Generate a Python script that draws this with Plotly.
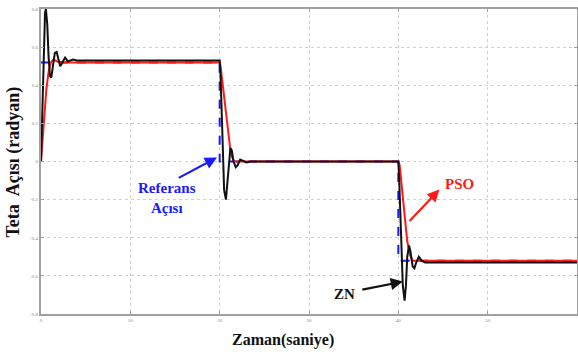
import plotly.graph_objects as go

# Reference (setpoint) signal
ref_t = [0, 20, 20, 40, 40, 60]
ref_v = [0.52, 0.52, 0.0, 0.0, -0.52, -0.52]

# PSO-tuned response
pso_t = [0, 0.3, 0.6, 0.85, 1.1, 1.4, 1.8, 2.5, 20.0, 20.1, 20.6, 21.0, 21.25, 21.6, 40.0, 40.15, 40.6, 41.0, 41.3, 41.6, 60]
pso_v = [0, 0.2, 0.38, 0.47, 0.52, 0.535, 0.525, 0.52, 0.52, 0.5, 0.3, 0.12, 0.04, 0.0, 0.0, -0.02, -0.22, -0.42, -0.49, -0.52, -0.52]

# ZN-tuned response
zn_t = [0, 0.15, 0.3, 0.45, 0.55, 0.7, 0.85, 1.0, 1.15, 1.35, 1.55, 1.75, 1.95, 2.15, 2.4, 2.7, 3.0, 3.3, 3.6, 4.0,
        20.0, 20.1, 20.3, 20.5, 20.7, 20.85, 21.0, 21.2, 21.35, 21.55, 21.8, 22.0, 22.3, 22.6, 23.0, 23.5,
        40.0, 40.1, 40.3, 40.5, 40.7, 40.85, 41.0, 41.2, 41.35, 41.6, 41.8, 42.0, 42.3, 42.6, 43.0, 60]
zn_v = [0, 0.3, 0.62, 0.78, 0.80, 0.72, 0.55, 0.45, 0.44, 0.50, 0.57, 0.575, 0.53, 0.50, 0.52, 0.545, 0.525, 0.53, 0.535, 0.53,
        0.53, 0.45, 0.1, -0.15, -0.20, -0.12, 0.0, 0.07, 0.06, 0.0, -0.03, -0.02, 0.01, 0.005, -0.005, 0.0,
        0.0, -0.1, -0.4, -0.65, -0.73, -0.65, -0.5, -0.44, -0.47, -0.55, -0.56, -0.53, -0.50, -0.52, -0.53, -0.53]

x_ticks = [0, 10, 20, 30, 40, 50, 60]
y_ticks = [0.8, 0.6, 0.4, 0.2, 0, -0.2, -0.4, -0.6, -0.8]
y_tick_text = ["0.8", "0.6", "0.4", "0.2", "0", "-0.2", "-0.4", "-0.6", "-0.8"]

fig = go.Figure()
fig.add_trace(go.Scatter(x=ref_t, y=ref_v, mode="lines",
                         line=dict(color="#1a1aff", width=2, dash="dash"), name="Referans"))
fig.add_trace(go.Scatter(x=pso_t, y=pso_v, mode="lines",
                         line=dict(color="#ff1a1a", width=2), name="PSO"))
fig.add_trace(go.Scatter(x=zn_t, y=zn_v, mode="lines",
                         line=dict(color="#111111", width=2), name="ZN"))

serif = "Liberation Serif"
axis_common = dict(showgrid=True, gridcolor="#d0d0d0", griddash="dot", gridwidth=1,
                   showline=True, linecolor="#a0a0a0", linewidth=2, mirror="ticks",
                   ticks="inside", ticklen=3, tickcolor="#a0a0a0", automargin=False,
                   tickfont=dict(family=serif, size=5, color="#888888"), zeroline=False)

fig.update_xaxes(range=[0, 60], tickvals=x_ticks, **axis_common)
fig.update_yaxes(range=[-0.8, 0.8], tickvals=y_ticks, ticktext=y_tick_text, **axis_common)

arrow = dict(showarrow=True, arrowhead=2, arrowsize=1.1, arrowwidth=2.2, text="",
             axref="x", ayref="y", xref="x", yref="y")
anns = [
    dict(x=19.7, y=0.021, ax=15.25, ay=-0.09, arrowcolor="#1a1aff", **arrow),
    dict(x=44.6, y=-0.147, ax=41.1, ay=-0.32, arrowcolor="#ff1a1a", **arrow),
    dict(x=40.5, y=-0.63, ax=35.8, ay=-0.674, arrowcolor="#111111", **arrow),
    dict(x=14.1, y=-0.19, xref="x", yref="y", showarrow=False,
         text="<b>Referans</b><br><b>Açısı</b>", font=dict(family=serif, size=15, color="#1a1aff")),
    dict(x=46.8, y=-0.12, xref="x", yref="y", showarrow=False,
         text="<b>PSO</b>", font=dict(family=serif, size=15, color="#ff1a1a")),
    dict(x=34.0, y=-0.695, xref="x", yref="y", showarrow=False,
         text="<b>ZN</b>", font=dict(family=serif, size=15, color="#111111")),
    dict(x=0.451, y=-0.085, xref="paper", yref="paper", showarrow=False,
         xanchor="center", yanchor="middle",
         text="<b>Zaman(saniye)</b>", font=dict(family=serif, size=16, color="#111111")),
    dict(x=-0.0504, y=0.5, xref="paper", yref="paper", showarrow=False, textangle=-90,
         xanchor="center", yanchor="middle",
         text="<b>Teta  Açısı (radyan)</b>", font=dict(family=serif, size=18, color="#111111")),
]

fig.update_layout(width=578, height=358, margin=dict(l=41, r=1, t=9, b=44, autoexpand=False),
                  plot_bgcolor="white", paper_bgcolor="white", showlegend=False,
                  hovermode=False, annotations=anns)

# remove the browser's default 8px body margin so the figure sits at the page origin
fig.write_html("out.html", config={"displayModeBar": False, "staticPlot": True},
               post_script="document.body.style.margin='0';")
